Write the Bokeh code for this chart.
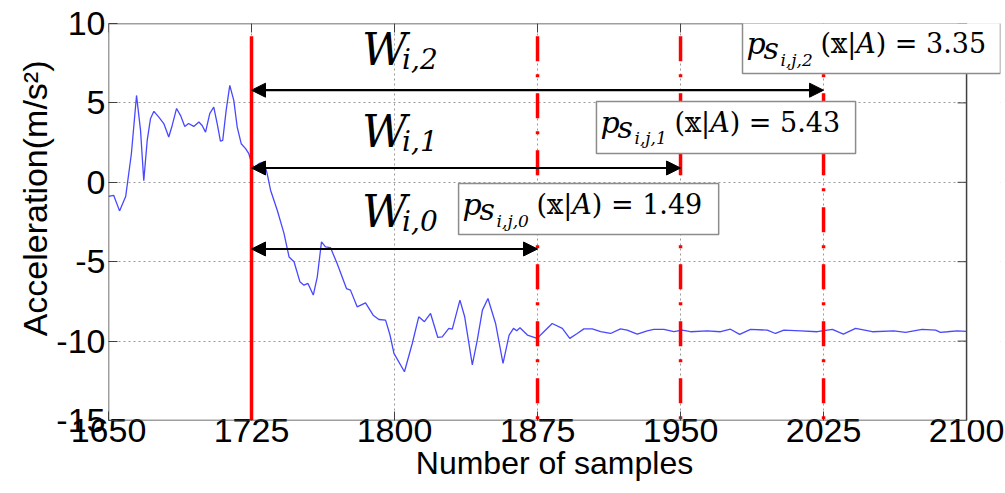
import math
from bokeh.plotting import figure
from bokeh.models import (Range1d, FixedTicker, Arrow, NormalHead,
                          Label, BoxAnnotation, Title)
from bokeh.embed import file_html
from bokeh.resources import INLINE

# ---- data ----
samples = [1650, 1652.7, 1655.8, 1659, 1662, 1664.7, 1666.8, 1668.5, 1670.3, 1672,
           1673.8, 1676.4, 1679, 1681.6, 1683.4, 1685.7, 1687.8, 1690, 1692, 1694.7,
           1697.4, 1699.1, 1700.9, 1703.1, 1705.2, 1707, 1708.7, 1709.9, 1711.7, 1713.6,
           1715.7, 1717.5, 1719.6, 1721.9, 1723.6, 1725.4, 1726.6, 1728.8, 1731.5, 1733.2,
           1735, 1738.5, 1742, 1744.7, 1747.3, 1750.4, 1752.5, 1754.6, 1757.4, 1759.5,
           1761.7, 1763.8, 1766.4, 1769.9, 1774.8, 1776.9, 1780.4, 1784.8, 1788.8, 1791.8,
           1795.3, 1797.6, 1799.7, 1805.2, 1809.3, 1812.7, 1815.7, 1818.9, 1822.7, 1825,
           1828.5, 1830.3, 1834.3, 1836.8, 1840.8, 1843.4, 1846.1, 1849, 1853, 1856.9,
           1860.1, 1862.4, 1864.1, 1865.8, 1869.7, 1874.8, 1878.3, 1882.7, 1888, 1891.9,
           1895.8, 1899.3, 1903.7, 1908.1, 1913.3, 1918.5, 1922, 1927.3, 1932.5, 1936,
           1941.3, 1946.5, 1950.9, 1955.2, 1964, 1971, 1976.2, 1981, 1986.7, 1995.5,
           1999.8, 2004.2, 2013, 2021.7, 2029.6, 2035.4, 2041.8, 2050.6, 2061.9, 2068,
           2076.7, 2083.8, 2086.3, 2089.9, 2095, 2100]
accel = [-0.88, -0.82, -1.8, -0.9, 1.8, 5.47, 3.27, 0.1, 2.64, 4.0,
         4.47, 4.1, 3.7, 2.85, 3.58, 4.65, 4.2, 3.52, 3.7, 3.52,
         3.8, 3.58, 3.16, 4.32, 4.74, 3.7, 2.6, 2.64, 4.53, 6.1,
         5.16, 3.48, 2.43, 2.12, 1.8, 1.07, 0.96, 1.17, 1.28, 0.55,
         -0.5, -1.76, -3.2, -4.7, -5.0, -6.27, -6.48, -6.37, -7.1, -5.95,
         -3.75, -4.07, -4.11, -5.11, -6.69, -6.79, -7.84, -7.59, -8.37, -8.64,
         -8.68, -9.6, -10.77, -11.93, -10.15, -8.47, -8.78, -8.26, -9.77, -9.73,
         -9.2, -9.25, -7.42, -8.47, -11.5, -9.94, -8.05, -7.32, -8.89, -11.4,
         -9.62, -9.2, -9.35, -9.16, -9.62, -9.83, -9.41, -8.89, -9.2, -9.83,
         -9.52, -9.23, -9.23, -9.41, -9.52, -9.23, -9.31, -9.56, -9.35, -9.26,
         -9.26, -9.41, -9.31, -9.41, -9.35, -9.41, -9.25, -9.58, -9.26, -9.31,
         -9.52, -9.31, -9.35, -9.41, -9.26, -9.56, -9.2, -9.41, -9.35, -9.45,
         -9.26, -9.31, -9.45, -9.41, -9.35, -9.39]

x_ticks = [1650, 1725, 1800, 1875, 1950, 2025, 2100]
y_ticks = [-15, -10, -5, 0, 5, 10]
x_min, x_max = 1650, 2100
y_min, y_max = -15, 10

start_sample = 1725
window_ends = [1875, 1950, 2025]
window_subs = ["i,0", "i,1", "i,2"]
arrow_levels = [-4.2, 0.9, 5.8]
w_label_levels = [-2.85, 2.19, 7.36]
likelihood_subs = ["i,j,0", "i,j,1", "i,j,2"]
likelihoods = ["1.49", "5.43", "3.35"]
line_top = 9.2

AX = "#404040"

# frame extends a little to the right of 2100 so the last box can overhang the axes
p = figure(width=1005, height=493, output_backend="svg", toolbar_location=None,
           x_range=Range1d(x_min, 2117.8), y_range=Range1d(y_min, y_max),
           min_border_left=108, min_border_right=5, min_border_top=23,
           min_border_bottom=73, background_fill_color="white",
           border_fill_color="white")
p.outline_line_color = None

bx = p.below[0]
ly = p.left[0]
for ax, ticks in ((bx, x_ticks), (ly, y_ticks)):
    ax.ticker = FixedTicker(ticks=ticks)
    ax.major_tick_in = 9
    ax.major_tick_out = 0
    ax.minor_tick_in = 0
    ax.minor_tick_out = 0
    ax.major_tick_line_color = AX
    ax.axis_line_color = None
    ax.major_label_text_font = "Liberation Sans"
    ax.major_label_text_font_size = "34px"
    ax.major_label_text_color = "black"
    ax.axis_label_text_font = "Liberation Sans"
    ax.axis_label_text_font_size = "32px"
    ax.axis_label_text_font_style = "normal"
    ax.axis_label_text_color = "black"
    ax.major_label_overrides = {t: str(t) for t in ticks}
bx.axis_label = "Number of samples"
bx.major_label_standoff = -2
bx.axis_label_standoff = 0
ly.major_label_standoff = 3

p.add_layout(Title(text="Acceleration(m/s²)", align="right", offset=37,
                   text_font="Liberation Sans", text_font_size="34px",
                   text_font_style="normal", text_color="black", standoff=0), "left")

for g, ticks in ((p.xgrid[0], x_ticks), (p.ygrid[0], y_ticks)):
    g.ticker = FixedTicker(ticks=ticks)
    g.grid_line_color = "#9a9a9a"
    g.grid_line_dash = "2 3"
    g.grid_line_width = 1

# inward ticks on the top and right sides
p.ray(x=x_ticks, y=[y_max] * len(x_ticks), length=9, length_units="screen",
      angle=-math.pi / 2, line_color=AX, line_width=1)
p.ray(x=[x_max] * len(y_ticks), y=y_ticks, length=9, length_units="screen",
      angle=math.pi, line_color=AX, line_width=1)

# signal
p.line(samples, accel, line_color="#4848ff", line_width=1.3)

# window boundaries
p.segment(x0=[start_sample], y0=[line_top], x1=[start_sample], y1=[y_min],
          line_color="red", line_width=3.5)
p.segment(x0=window_ends, y0=[line_top] * 3, x1=window_ends, y1=[y_min] * 3,
          line_color="red", line_width=3.5, line_dash="25 13 3 16")

# blank strip right of the axes box, then the axes box itself
p.add_layout(BoxAnnotation(left=x_max, fill_color="white", fill_alpha=1.0,
                           line_color=None))
p.add_layout(BoxAnnotation(left=x_min, right=x_max, top=y_max, bottom=y_min,
                           fill_alpha=0, line_color=AX, line_alpha=1.0,
                           line_width=1.5))

# window arrows and labels
for end, lvl, sub, wl in zip(window_ends, arrow_levels, window_subs, w_label_levels):
    p.add_layout(Arrow(x_start=start_sample, y_start=lvl, x_end=end, y_end=lvl,
                       line_color="black", line_width=2.2,
                       start=NormalHead(size=14, fill_color="black", line_color="black"),
                       end=NormalHead(size=14, fill_color="black", line_color="black")))
    p.add_layout(Label(x=1783, y=wl, y_offset=16, text="W", text_font="DejaVu Serif",
                       text_font_style="italic", text_font_size="44px",
                       text_baseline="alphabetic", text_color="black"))
    p.add_layout(Label(x=1783, y=wl, x_offset=40, y_offset=6, text=sub,
                       text_font="DejaVu Serif", text_font_style="italic",
                       text_font_size="28px", text_baseline="alphabetic",
                       text_color="black"))

# likelihood boxes
box_left = [1833.6, 1905.9, 1982.5]
box_right = [1970.0, 2041.8, 2117.8]
box_top = [-0.08, 5.09, 10.06]
box_bottom = [-3.29, 1.81, 6.85]
for l, r, t, b, sub, val in zip(box_left, box_right, box_top, box_bottom,
                                likelihood_subs, likelihoods):
    p.add_layout(BoxAnnotation(left=l, right=r, top=t, bottom=b, fill_color="white",
                               fill_alpha=1.0, line_color="#8c8c8c", line_width=1.5,
                               line_alpha=1.0))
    common = dict(x=l, y=t, text_font="DejaVu Serif", text_baseline="alphabetic",
                  text_color="black")
    p.add_layout(Label(x_offset=4, y_offset=-21, text="p", text_font_style="italic",
                       text_font_size="30px", **common))
    p.add_layout(Label(x_offset=21, y_offset=-26, text="s", text_font_style="italic",
                       text_font_size="30px", **common))
    p.add_layout(Label(x_offset=38, y_offset=-37, text=sub, text_font_style="italic",
                       text_font_size="17px", **common))
    p.add_layout(Label(x_offset=78, y_offset=-21, text="(𝕩|𝐴) = " + val,
                       text_font_size="27px", **common))

open("out.html", "w").write(file_html(p, INLINE))
